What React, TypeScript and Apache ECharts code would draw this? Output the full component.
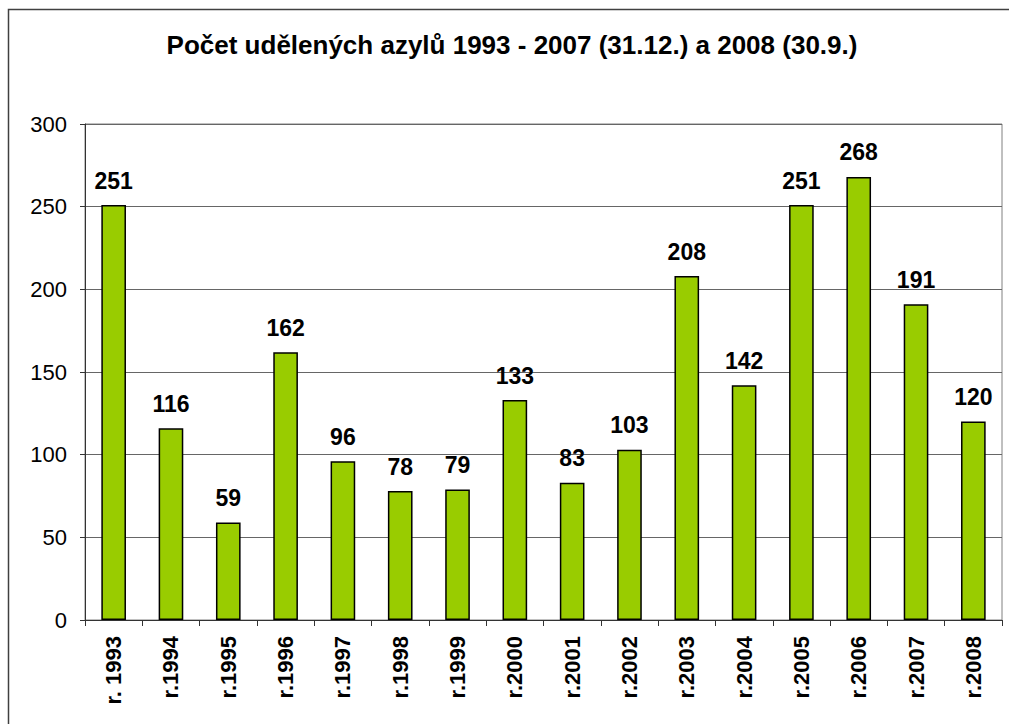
import React, { useEffect, useRef } from "react";
import * as echarts from "echarts";

const categories = ["r. 1993", "r.1994", "r.1995", "r.1996", "r.1997", "r.1998", "r.1999", "r.2000", "r.2001", "r.2002", "r.2003", "r.2004", "r.2005", "r.2006", "r.2007", "r.2008"];
const values = [251, 116, 59, 162, 96, 78, 79, 133, 83, 103, 208, 142, 251, 268, 191, 120];
const yTicks = [0, 50, 100, 150, 200, 250, 300];
const titleText = "Počet udělených azylů 1993 - 2007 (31.12.) a 2008 (30.9.)";

export default function App() {
  const ref = useRef<HTMLDivElement>(null);
  useEffect(() => {
    document.body.style.margin = "0";
    const chart = echarts.init(ref.current!, null, { renderer: "svg" });
    const font = "Arial, 'Liberation Sans', sans-serif";
    chart.setOption({
      animation: false,
      backgroundColor: "#ffffff",
      textStyle: { fontFamily: font },
      title: {
        text: titleText,
        left: 507,
        textAlign: "center",
        top: 27,
        textStyle: { fontSize: 26, fontWeight: "bold", color: "#000", fontFamily: font },
      },
      graphic: [
        {
          type: "rect",
          shape: { x: 8.5, y: 9.5, width: 1100, height: 800 },
          style: { fill: "none", stroke: "#404040", lineWidth: 1.5 },
          silent: true,
        },
      ],
      grid: {
        left: 85,
        right: 7,
        top: 124,
        bottom: 104,
        show: true,
        borderColor: "#808080",
        borderWidth: 1,
        backgroundColor: "transparent",
      },
      xAxis: {
        type: "category",
        data: categories,
        axisLine: { lineStyle: { color: "#333", width: 1 } },
        axisTick: { show: true, length: 6, lineStyle: { color: "#333" } },
        axisLabel: {
          rotate: 90,
          margin: 16,
          fontSize: 22,
          fontWeight: "bold",
          color: "#000",
          fontFamily: font,
          interval: 0,
        },
      },
      yAxis: {
        type: "value",
        min: yTicks[0],
        max: yTicks[yTicks.length - 1],
        interval: 50,
        axisLine: { show: true, lineStyle: { color: "#333", width: 1 } },
        axisTick: { show: true, length: 5, lineStyle: { color: "#333" } },
        axisLabel: { fontSize: 22, color: "#000", margin: 18, fontFamily: font },
        splitLine: { lineStyle: { color: "#666", width: 1 } },
      },
      series: [
        {
          type: "bar",
          data: values,
          barWidth: "43%",
          itemStyle: { color: "#99cc00", borderColor: "#000", borderWidth: 1.5 },
          label: {
            show: true,
            position: "top",
            distance: 13,
            fontSize: 23,
            fontWeight: "bold",
            color: "#000",
            fontFamily: font,
          },
        },
      ],
    });
    return () => chart.dispose();
  }, []);
  return <div ref={ref} style={{ width: 1009, height: 724 }} />;
}
